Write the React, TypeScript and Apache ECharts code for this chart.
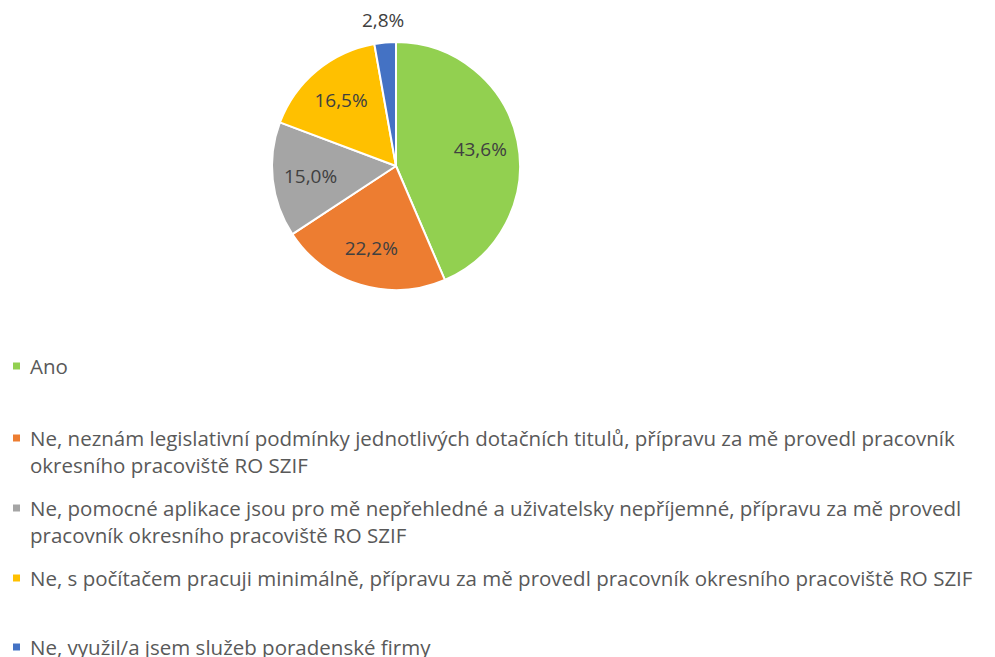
import React, { useEffect, useRef } from 'react';
import * as echarts from 'echarts';

const categories = [
  'Ano',
  'Ne, neznám legislativní podmínky jednotlivých dotačních titulů, přípravu za mě provedl pracovník okresního pracoviště RO SZIF',
  'Ne, pomocné aplikace jsou pro mě nepřehledné a uživatelsky nepříjemné, přípravu za mě provedl pracovník okresního pracoviště RO SZIF',
  'Ne, s počítačem pracuji minimálně, přípravu za mě provedl pracovník okresního pracoviště RO SZIF',
  'Ne, využil/a jsem služeb poradenské firmy',
];
const legendLines = [
  ['Ano'],
  ['Ne, neznám legislativní podmínky jednotlivých dotačních titulů, přípravu za mě provedl pracovník', 'okresního pracoviště RO SZIF'],
  ['Ne, pomocné aplikace jsou pro mě nepřehledné a uživatelsky nepříjemné, přípravu za mě provedl', 'pracovník okresního pracoviště RO SZIF'],
  ['Ne, s počítačem pracuji minimálně, přípravu za mě provedl pracovník okresního pracoviště RO SZIF'],
  ['Ne, využil/a jsem služeb poradenské firmy'],
];
const values = [43.6, 22.2, 15.0, 16.5, 2.8];
const colors = ['#92D050', '#ED7D31', '#A5A5A5', '#FFC000', '#4472C4'];
const outsideLabel = [false, false, false, false, true];

const FONT = '"Open Sans"';
const CENTER = [396, 166];
const R = 124;
const LINE_H = 27;
const FIRST_LINE_Y = [366, 438, 508, 578, 647];

const fmtPct = (v: number) => v.toFixed(1).replace('.', ',') + '%';

export default function App() {
  const ref = useRef<HTMLDivElement>(null);
  useEffect(() => {
    if (!ref.current) return;
    const chart = echarts.init(ref.current, undefined, { renderer: 'svg' });
    const data = categories.map((name, i) => ({ name, value: values[i], itemStyle: { color: colors[i] } }));
    const wrapMap: Record<string, string> = {};
    categories.forEach((c, i) => {
      const lines = legendLines[i];
      wrapMap[c] = lines.length > 1 ? '\n' + lines.join('\n') : lines[0];
    });
    const legends = categories.map((name, i) => {
      const multi = legendLines[i].length > 1;
      const top = multi ? FIRST_LINE_Y[i] - LINE_H * 1.5 : FIRST_LINE_Y[i] - LINE_H / 2;
      return {
        data: [name],
        left: 11,
        top,
        padding: 0,
        orient: 'vertical',
        icon: 'rect',
        itemWidth: 9,
        itemHeight: 9,
        selectedMode: false,
        formatter: (n: string) => wrapMap[n],
        textStyle: {
          fontFamily: FONT,
          fontSize: 20.5,
          lineHeight: LINE_H,
          color: '#595959',
          padding: [0, 0, 0, 4],
        },
      };
    });
    const labelStyle = {
      fontFamily: FONT,
      fontSize: 19,
      color: '#404040',
    };
    chart.setOption({
      animation: false,
      legend: legends,
      series: [
        {
          type: 'pie',
          center: CENTER,
          radius: R,
          startAngle: 90,
          clockwise: true,
          silent: true,
          label: { show: false },
          labelLine: { show: false },
          itemStyle: { borderColor: '#ffffff', borderWidth: 2 },
          data,
        },
        {
          type: 'pie',
          center: CENTER,
          radius: [42, R],
          startAngle: 90,
          silent: true,
          itemStyle: { color: 'transparent' },
          labelLine: { show: false },
          label: {
            show: true,
            position: 'inside',
            ...labelStyle,
            formatter: (p: any) => fmtPct(p.value),
          },
          data: categories.map((name, i) => ({
            name,
            value: values[i],
            itemStyle: { color: 'transparent' },
            label: { show: !outsideLabel[i] },
          })),
        },
        {
          type: 'pie',
          center: CENTER,
          radius: [R, R + 40],
          startAngle: 90,
          silent: true,
          itemStyle: { color: 'transparent' },
          labelLine: { show: false },
          label: {
            show: true,
            position: 'inside',
            ...labelStyle,
            formatter: (p: any) => fmtPct(p.value),
          },
          data: categories.map((name, i) => ({
            name,
            value: values[i],
            itemStyle: { color: 'transparent' },
            label: { show: outsideLabel[i] },
          })),
        },
      ],
    });
    return () => chart.dispose();
  }, []);
  return (
    <div
      ref={ref}
      style={{ position: 'absolute', left: 0, top: 0, width: 995, height: 657, background: '#ffffff' }}
    />
  );
}
